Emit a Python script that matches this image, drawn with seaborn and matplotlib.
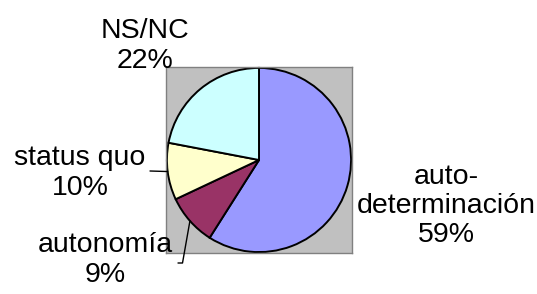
import numpy as np
import matplotlib
matplotlib.use("Agg")
import matplotlib.pyplot as plt
import seaborn as sns

# Data
categories = ['auto-\ndeterminación', 'autonomía', 'status quo', 'NS/NC']
values = [59, 9, 10, 22]
colors = ['#9999FF', '#993366', '#FFFFCC', '#CCFFFF']

sns.set_style("white")
plt.rcParams['font.family'] = ['Liberation Sans', 'DejaVu Sans']

fig = plt.figure(figsize=(5.37, 2.94), dpi=100)
ax = fig.add_axes([166 / 537, 40 / 294, 186 / 537, 188 / 294])

wedges, _ = ax.pie(values, colors=colors, startangle=90, counterclock=False,
                   wedgeprops=dict(edgecolor='black', linewidth=1.4))
ax.set_xlim(-1.01, 1.01)
ax.set_ylim(-1.01, 1.01)
ax.set_aspect('equal')
ax.set_facecolor('#C0C0C0')
ax.set_frame_on(True)
for s in ax.spines.values():
    s.set_visible(True)
    s.set_color('#808080')
    s.set_linewidth(1)

total = sum(values)
labels = [f"{c}\n{round(v / total * 100)}%" for c, v in zip(categories, values)]

# label positions in figure pixels (layout)
label_pos = [(446, 88), (105, 34), (80, 121), (145, 248)]
fs = 20.5
for lab, (px, py) in zip(labels, label_pos):
    fig.text(px / 537, py / 294, lab, ha='center', va='center', fontsize=fs,
             linespacing=1.17, color='black')

# leader lines for the small left slices
def edge_point(w):
    ang = np.deg2rad((w.theta1 + w.theta2) / 2)
    return np.cos(ang), np.sin(ang)

# status quo
ax.annotate('', xy=edge_point(wedges[2]), xycoords='data',
            xytext=(150, 294 - 171), textcoords='figure pixels',
            arrowprops=dict(arrowstyle='-', color='black', lw=1,
                            shrinkA=0, shrinkB=0))
# autonomía (elbow)
ax.annotate('', xy=edge_point(wedges[1]), xycoords='data',
            xytext=(178, 294 - 263), textcoords='figure pixels',
            arrowprops=dict(arrowstyle='-', color='black', lw=1,
                            shrinkA=0, shrinkB=0,
                            connectionstyle='angle,angleA=0,angleB=80,rad=0'))

plt.savefig('out.png', dpi=100)
